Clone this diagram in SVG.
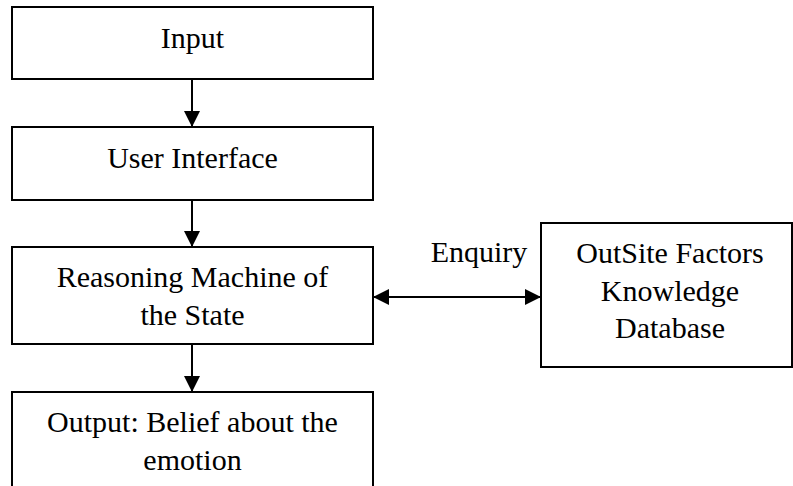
<svg xmlns="http://www.w3.org/2000/svg" width="793" height="486" viewBox="0 0 793 486">
  <defs>
    <marker id="head" markerUnits="userSpaceOnUse" markerWidth="16" markerHeight="16" viewBox="0 0 16 16" refX="16" refY="8" orient="auto-start-reverse">
      <path d="M0,0 L16,8 L0,16 Z" fill="#000"/>
    </marker>
  </defs>
  <style>
    .box { fill: #fff; stroke: #000; stroke-width: 2; }
    .lbl { font-family: "Liberation Serif", "Times New Roman", serif; font-size: 30px; fill: #000; text-anchor: middle; }
    .edge { stroke: #000; stroke-width: 2; fill: none; }
  </style>
  <rect width="793" height="486" fill="#fff"/>

  <g id="connectors">
    <line class="edge" x1="192" y1="79" x2="192" y2="127" marker-end="url(#head)"/>
    <line class="edge" x1="192" y1="200" x2="192" y2="247" marker-end="url(#head)"/>
    <line class="edge" x1="192" y1="344" x2="192" y2="392" marker-end="url(#head)"/>
    <line class="edge" x1="373" y1="297" x2="541" y2="297" marker-start="url(#head)" marker-end="url(#head)"/>
    <text class="lbl" x="479" y="262">Enquiry</text>
  </g>

  <g id="input">
    <rect class="box" x="12" y="7" width="361" height="72"/>
    <text class="lbl" x="192.5" y="48">Input</text>
  </g>

  <g id="user-interface">
    <rect class="box" x="12" y="127" width="361" height="73"/>
    <text class="lbl" x="192.5" y="168">User Interface</text>
  </g>

  <g id="reasoning-machine">
    <rect class="box" x="12" y="247" width="361" height="97"/>
    <text class="lbl" x="192.5" y="287">Reasoning Machine of</text>
    <text class="lbl" x="192.5" y="325">the State</text>
  </g>

  <g id="output">
    <rect class="box" x="12" y="392" width="361" height="100"/>
    <text class="lbl" x="192.5" y="432">Output: Belief about the</text>
    <text class="lbl" x="192.5" y="470">emotion</text>
  </g>

  <g id="knowledge-database">
    <rect class="box" x="541" y="223" width="251" height="144"/>
    <text class="lbl" x="670" y="263">OutSite Factors</text>
    <text class="lbl" x="670" y="301">Knowledge</text>
    <text class="lbl" x="670" y="338">Database</text>
  </g>
</svg>
